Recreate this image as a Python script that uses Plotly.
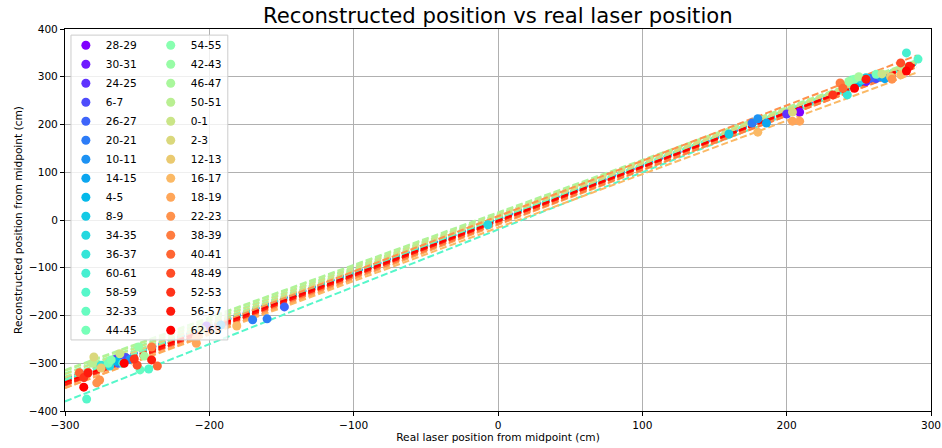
import math
import plotly.graph_objects as go

LABELS = ["28-29", "30-31", "24-25", "6-7", "26-27", "20-21", "10-11", "14-15",
          "4-5", "8-9", "34-35", "36-37", "60-61", "58-59", "32-33", "44-45",
          "54-55", "42-43", "46-47", "50-51", "0-1", "2-3", "12-13", "16-17",
          "18-19", "22-23", "38-39", "40-41", "48-49", "52-53", "56-57", "62-63"]

X_REAL = [
    [-262, 209], [-202, 255], [-265, 200], [-258, 262],
    [-148, -263, 258], [-170, -160, 176], [180, -255, 265], [-192, 186, 268],
    [-264, 250], [160, 255], [-269, -7, 252], [-275, 242],
    [283, -260], [-285, -242, 291], [-248, 245], [-270, 262],
    [-268, 247], [-249, 243], [-245, 250], [-281, 280],
    [-262, 266], [-280, -205, 204], [-275, 272], [-181, 279, 180],
    [-209, -209, 204, 209], [-276, -278, 273], [-240, 237], [-236, 239, -290],
    [-250, 279], [-287, -252, 232], [-284, -240, 255, 285], [-287, -259, 247, 283],
]
Y_RECO = [
    [-285, 226], [-222, 290], [-292, 222], [-288, 296],
    [-182, -300, 297], [-209, -207, 203], [212, -292, 300], [-220, 203, 296],
    [-296, 288], [180, 298], [-306, -10, 293], [-304, 262],
    [350, -300], [-375, -312, 337], [-314, 293], [-300, 305],
    [-293, 295], [-266, 290], [-285, 300], [-300, 318],
    [-280, 306], [-287, -230, 226], [-310, 300], [-222, 304, 184],
    [-258, -247, 207, 207], [-335, -341, 295], [-266, 287], [-306, 276, -320],
    [-304, 329], [-330, -291, 262], [-320, -293, 295, 322], [-350, -300, 276, 312],
]
Y_ERR = [6, 6, 6, 6, 6, 6, 6, 6, 6, 6, 6, 6, 7, 7, 7, 7,
         7, 7, 7, 7, 6, 6, 6, 6, 6, 6, 6, 6, 6, 6, 6, 6]
FIT_SLOPE = [1.12, 1.12, 1.12, 1.125, 1.13, 1.12, 1.13, 1.12,
             1.125, 1.13, 1.12, 1.13, 1.14, 1.20, 1.15, 1.13,
             1.12, 1.11, 1.10, 1.10, 1.11, 1.12, 1.13, 1.12,
             1.14, 1.16, 1.13, 1.14, 1.13, 1.13, 1.14, 1.13]
FIT_INTERCEPT = [3, 4, 2, 3, 1, 2, 0, 1,
                 2, -1, 1, 0, 3, -20, 0, 5,
                 8, 12, 16, 14, 10, 6, -6, -16,
                 -10, 8, -8, -4, -3, -2, -3, -1]
FIT_RANGE = [-300, 290]
X_TICKS = [-300, -200, -100, 0, 100, 200, 300]
Y_TICKS = [-400, -300, -200, -100, 0, 100, 200, 300, 400]


def rainbow(t):
    r = min(1.0, max(0.0, abs(2 * t - 0.5)))
    g = min(1.0, max(0.0, math.sin(t * math.pi)))
    b = min(1.0, max(0.0, math.cos(t * math.pi / 2)))
    return "rgb(%d,%d,%d)" % (round(r * 255), round(g * 255), round(b * 255))


n = len(LABELS)
colors = [rainbow(i / (n - 1)) for i in range(n)]
FONT = "DejaVu Sans"

fig = go.Figure()
for i in range(n):
    fy = [FIT_SLOPE[i] * x + FIT_INTERCEPT[i] for x in FIT_RANGE]
    fig.add_trace(go.Scatter(x=FIT_RANGE, y=fy, mode="lines", showlegend=False,
                             line=dict(color=colors[i], width=2, dash="7px,3px"),
                             hoverinfo="skip"))
for i in range(n):
    fig.add_trace(go.Scatter(
        x=X_REAL[i], y=Y_RECO[i], mode="markers", name=LABELS[i],
        legend="legend" if i < 16 else "legend2",
        marker=dict(color=colors[i], size=9),
        error_y=dict(type="constant", value=Y_ERR[i], color=colors[i], thickness=1.5, width=0),
    ))

axis_common = dict(showline=True, linecolor="black", linewidth=1, mirror=True,
                   ticks="outside", ticklen=4, tickcolor="black", tickwidth=1,
                   showgrid=True, gridcolor="#b0b0b0", gridwidth=0.8, zeroline=False,
                   automargin=False,
                   tickfont=dict(family=FONT, size=10.6, color="black"))

fig.update_layout(
    width=942, height=448,
    margin=dict(l=65, r=11, t=29, b=37),
    plot_bgcolor="white", paper_bgcolor="white",
    font=dict(family=FONT, size=10.6, color="black"),
    title=dict(text="Reconstructed position vs real laser position",
               x=0.5285, xanchor="center", y=0.965, yanchor="middle",
               font=dict(family=FONT, size=21.2, color="black")),
    xaxis=dict(range=[-300, 300], tickvals=X_TICKS,
               title=dict(text="Real laser position from midpoint (cm)", standoff=2,
                          font=dict(family=FONT, size=10.6)),
               **axis_common),
    yaxis=dict(range=[-400, 400], tickvals=Y_TICKS,
               title=dict(text="Reconstructed position from midpoint (cm)", standoff=4,
                          font=dict(family=FONT, size=10.6)),
               **axis_common),
    legend=dict(x=0.001, y=0.9955, xanchor="left", yanchor="top",
                bgcolor="rgba(0,0,0,0)", borderwidth=0,
                font=dict(family=FONT, size=10.6, color="black")),
    legend2=dict(x=0.099, y=0.9955, xanchor="left", yanchor="top",
                 bgcolor="rgba(0,0,0,0)", borderwidth=0,
                 font=dict(family=FONT, size=10.6, color="black")),
    shapes=[dict(type="rect", xref="paper", yref="paper",
                 x0=0.0069, x1=0.188, y0=0.186, y1=0.984,
                 fillcolor="rgba(255,255,255,0.8)", line=dict(color="#cccccc", width=1),
                 layer="above")],
    showlegend=True,
)

fig.write_html("out.html")
